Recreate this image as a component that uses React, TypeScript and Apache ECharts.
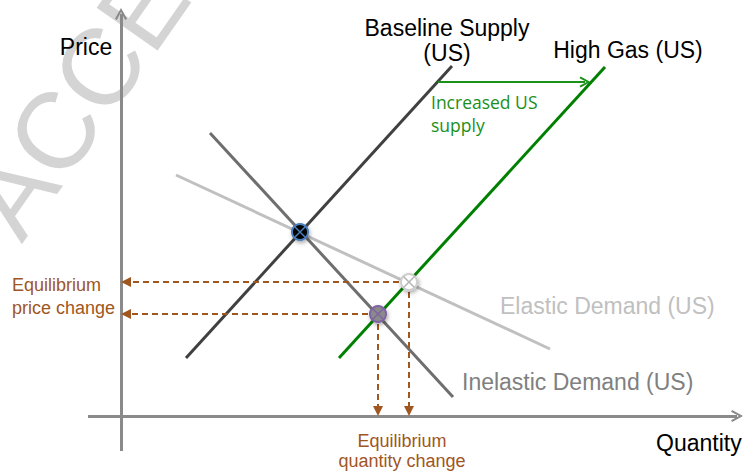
import React, { useEffect, useRef } from 'react';
import * as echarts from 'echarts';

// Chart units: quantity (x) and price (y), origin at the axes' crossing.
const priceAxis: number[][] = [[0, -35], [0, 402]];
const quantityAxis: number[][] = [[-33, 0], [616, 0]];
const baselineSupply: number[][] = [[65, 58], [331, 350]];
const highGasSupply: number[][] = [[218, 58], [484, 349]];
const inelasticDemand: number[][] = [[89, 283], [332, 19]];
const elasticDemand: number[][] = [[55, 241], [429, 67]];
const eqBaseline: number[] = [179, 184];
const eqElastic: number[] = [288, 134];
const eqInelastic: number[] = [257, 102];
const supplyShift: number[][] = [[317, 334], [464, 334]];
const guideEqs: number[][] = [eqElastic, eqInelastic];

const ARIAL = '"Liberation Sans", Arial, sans-serif';
const BROWN = '#a0561f';
const CHEVRON = 'path://M0,9 L5,0 L10,9 L8.5,10 L5,3.4 L1.5,10 Z';
const XMARK = 'path://M0,0 L10,10 M10,0 L0,10';

export default function App() {
  const ref = useRef<HTMLDivElement>(null);
  useEffect(() => {
    if (!ref.current) return;
    const chart = echarts.init(ref.current, undefined, { renderer: 'svg' });
    const inset = 5;
    const guides: any[] = [];
    guideEqs.forEach((p) => {
      guides.push({ coords: [p, [inset, p[1]]] });
      guides.push({ coords: [p, [p[0], inset]] });
    });
    const curve = (name: string, data: number[][], color: string) => ({
      name, type: 'line', data, showSymbol: false, silent: true, z: 3,
      lineStyle: { color, width: 3 },
    });
    const marker = (p: number[], fill: string, border: string, cross: string) => [
      {
        type: 'scatter', data: [p], symbol: 'circle', symbolSize: 16, z: 6, silent: true,
        itemStyle: {
          color: fill, borderColor: border, borderWidth: 2, opacity: 1,
          shadowBlur: 4, shadowColor: 'rgba(0,0,0,0.35)', shadowOffsetX: 1, shadowOffsetY: 2,
        },
      },
      {
        type: 'scatter', data: [p], symbol: XMARK, symbolSize: 11, z: 7, silent: true,
        itemStyle: { color: 'none', borderColor: cross, borderWidth: 1.5, opacity: 1 },
      },
    ];
    const text = (t: string, x: number, y: number, size: number, color: string, align = 'center', family = ARIAL) => ({
      type: 'text', x, y, z: 100, silent: true,
      style: {
        text: t, fill: color, font: `${size}px ${family}`,
        textAlign: align, textVerticalAlign: 'middle', align, verticalAlign: 'middle',
      },
    });
    chart.setOption({
      animation: false,
      grid: { left: 0, right: 0, top: 0, bottom: 0 },
      xAxis: { type: 'value', min: -121, max: 624, show: false },
      yAxis: { type: 'value', min: -55, max: 416, show: false },
      series: [
        {
          type: 'lines', coordinateSystem: 'cartesian2d', silent: true, z: 2,
          data: [{ coords: priceAxis }, { coords: quantityAxis }],
          symbol: ['none', CHEVRON], symbolSize: [14, 12],
          lineStyle: { color: '#8a8a8a', width: 3, opacity: 1 },
        },
        curve('Elastic Demand (US)', elasticDemand, '#c0c0c0'),
        curve('Inelastic Demand (US)', inelasticDemand, '#6e6e6e'),
        curve('Baseline Supply (US)', baselineSupply, '#404040'),
        curve('High Gas (US)', highGasSupply, '#008000'),
        {
          type: 'lines', coordinateSystem: 'cartesian2d', silent: true, z: 4,
          data: [{ coords: supplyShift }],
          symbol: ['none', CHEVRON], symbolSize: [13, 11],
          lineStyle: { color: '#1a921a', width: 2, opacity: 1 },
        },
        {
          type: 'lines', coordinateSystem: 'cartesian2d', silent: true, z: 5,
          data: guides,
          symbol: ['none', 'triangle'], symbolSize: [10, 10],
          lineStyle: { color: BROWN, width: 2, opacity: 1, type: [6, 4] },
          itemStyle: { color: BROWN },
        },
        ...marker(eqBaseline, '#000000', '#4a7ebb', '#4a7ebb'),
        ...marker(eqElastic, '#ffffff', '#cfcfcf', '#b5b5b5'),
        ...marker(eqInelastic, '#8a8a8a', '#8064a2', '#8064a2'),
      ],
      graphic: [
        {
          type: 'text', x: -9, y: 223, rotation: (55 * Math.PI) / 180, z: -10, silent: true,
          style: {
            text: 'ACCEPTED MANUSCRIPT', fill: '#d4d4d4', font: `108px ${ARIAL}`,
            textAlign: 'left', textVerticalAlign: 'middle', align: 'left', verticalAlign: 'middle',
          },
        },
        text('Price', 86, 47, 23, '#000000'),
        text('Baseline Supply', 447, 28, 23, '#000000'),
        text('(US)', 447, 53, 23, '#000000'),
        text('High Gas (US)', 628, 50, 23, '#000000'),
        text('Increased US', 431, 102, 17.5, '#1a8f1a', 'left', '"Open Sans", sans-serif'),
        text('supply', 431, 125, 17.5, '#1a8f1a', 'left', '"Open Sans", sans-serif'),
        text('Elastic Demand (US)', 500, 306, 23, '#c0c0c0', 'left'),
        text('Inelastic Demand (US)', 462, 382, 23, '#808080', 'left'),
        text('Equilibrium', 12, 285, 18, BROWN, 'left'),
        text('price change', 12, 308, 18, BROWN, 'left'),
        text('Quantity', 656, 443, 23, '#000000', 'left'),
        text('Equilibrium', 402, 441, 18, BROWN),
        text('quantity change', 402, 461, 18, BROWN),
      ],
    });
    return () => chart.dispose();
  }, []);
  return <div ref={ref} style={{ position: 'absolute', left: 0, top: 0, width: 745, height: 471, background: '#ffffff' }} />;
}
